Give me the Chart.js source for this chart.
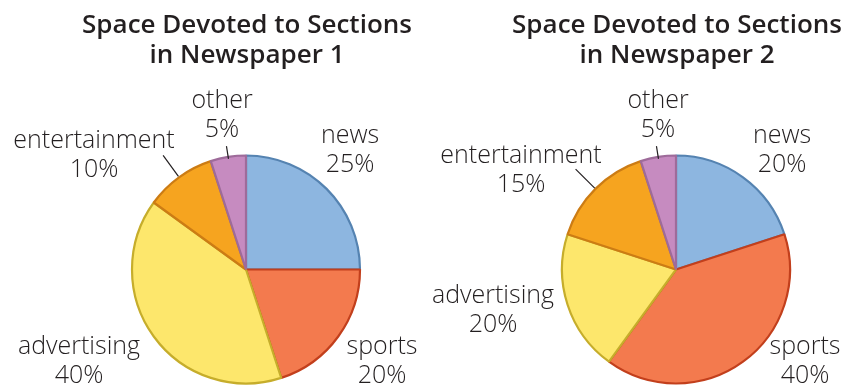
<!DOCTYPE html>
<html>
<head>
<meta charset="utf-8">
<script src="https://cdn.jsdelivr.net/npm/chart.js@4/dist/chart.umd.min.js"></script>
<style>
  html, body { margin: 0; padding: 0; background: #ffffff; overflow: hidden; }
  .wrap { position: absolute; top: 0; width: 423px; height: 385px; }
  #w1 { left: 0; }
  #w2 { left: 423px; }
</style>
</head>
<body>
<div class="wrap" id="w1"><canvas id="c1" width="423" height="385"></canvas></div>
<div class="wrap" id="w2"><canvas id="c2" width="423" height="385"></canvas></div>
<script>
// Sections, in drawing order clockwise from 12 o'clock
const sections = ['news', 'sports', 'advertising', 'entertainment', 'other'];
const paper1Share = [25, 20, 40, 10, 5];
const paper2Share = [20, 40, 20, 15, 5];
const paper1Title = ['Space Devoted to Sections', 'in Newspaper 1'];
const paper2Title = ['Space Devoted to Sections', 'in Newspaper 2'];

const fills   = ['#8db6e0', '#f37a4e', '#fde76c', '#f6a41f', '#c68bc0'];
const borders = ['#5583b1', '#c23f1c', '#c6ad2b', '#cc7c14', '#9e6b9a'];

const TEXT = '#231f20';
const LABEL_FONT = '300 25px "Open Sans", "Noto Sans", sans-serif';
const TITLE_FONT = '600 26px "Open Sans", "Noto Sans", sans-serif';

// Label anchors relative to the pie centre: [dx, baseline of first line]
const labelPlacement1 = [[104, -127], [136, 84], [-167, 84], [-152, -122], [-24, -162]];
const labelPlacement2 = [[106, -127], [129, 84], [-183, 33], [-155, -107], [-18, -162]];
// Leader lines for the small slices: [slice index, from radius offset, to radius offset]
const leaders1 = [[3, 1, 27], [4, -2, 11]];
const leaders2 = [[3, 1, 28], [4, -2, 11]];

const pieDecor = {
  id: 'pieDecor',
  afterDatasetsDraw(chart, args, opts) {
    const ctx = chart.ctx;
    const arcs = chart.getDatasetMeta(0).data;
    const cx = arcs[0].x, cy = arcs[0].y, r = arcs[0].outerRadius;
    ctx.save();
    // title
    ctx.fillStyle = TEXT;
    ctx.font = TITLE_FONT;
    ctx.textAlign = 'center';
    ctx.textBaseline = 'alphabetic';
    opts.title.forEach((line, i) => ctx.fillText(line, cx + 1, 33 + i * 30));
    // leader lines
    ctx.strokeStyle = '#231f20';
    ctx.lineWidth = 1.2;
    opts.leaders.forEach(([idx, a, b]) => {
      const arc = arcs[idx];
      const mid = (arc.startAngle + arc.endAngle) / 2;
      ctx.beginPath();
      ctx.moveTo(cx + Math.cos(mid) * (r + a), cy + Math.sin(mid) * (r + a));
      ctx.lineTo(cx + Math.cos(mid) * (r + b), cy + Math.sin(mid) * (r + b));
      ctx.stroke();
    });
    // slice labels: name and share
    ctx.font = LABEL_FONT;
    const values = chart.data.datasets[0].data;
    chart.data.labels.forEach((name, i) => {
      const [dx, dy] = opts.placement[i];
      ctx.fillText(name, cx + dx, cy + dy);
      ctx.fillText(values[i] + '%', cx + dx, cy + dy + 29);
    });
    ctx.restore();
  }
};

function makePie(canvasId, shares, title, placement, leaders, padLeft, padRight) {
  return new Chart(document.getElementById(canvasId), {
    type: 'pie',
    data: {
      labels: sections,
      datasets: [{
        data: shares,
        backgroundColor: fills,
        borderColor: borders,
        borderWidth: 2.2
      }]
    },
    options: {
      responsive: false,
      animation: false,
      radius: 114,
      layout: { padding: { left: padLeft, right: padRight, top: 155, bottom: 1 } },
      plugins: {
        legend: { display: false },
        tooltip: { enabled: false },
        pieDecor: { title, placement, leaders }
      }
    },
    plugins: [pieDecor]
  });
}

makePie('c1', paper1Share, paper1Title, labelPlacement1, leaders1, 131, 62);
makePie('c2', paper2Share, paper2Title, labelPlacement2, leaders2, 138, 55);
</script>
</body>
</html>
